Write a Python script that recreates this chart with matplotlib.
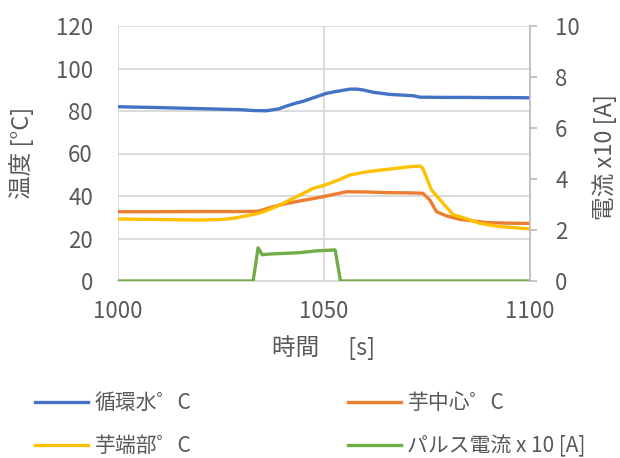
import matplotlib
matplotlib.use("Agg")
import matplotlib.pyplot as plt
from matplotlib.lines import Line2D

plt.rcParams['font.family'] = ['Noto Sans CJK JP', 'DejaVu Sans']

# circulating water (°C)
t_blue = [1000, 1010, 1020, 1030, 1033, 1036, 1039, 1041, 1043, 1045, 1048, 1050.6, 1053, 1056.3, 1058, 1059.5, 1062, 1066, 1071.6, 1073.3, 1080, 1084.6, 1090, 1095, 1100]
v_blue = [82.0, 81.6, 81.1, 80.6, 80.2, 80.1, 81.0, 82.4, 83.6, 84.6, 86.6, 88.3, 89.2, 90.3, 90.3, 89.9, 88.8, 87.8, 87.2, 86.5, 86.4, 86.4, 86.3, 86.3, 86.2]

# potato centre (°C)
t_or = [1000, 1010, 1020, 1030, 1034, 1037.7, 1041, 1045, 1048, 1050.6, 1053, 1055.5, 1060, 1065, 1070, 1074, 1075.7, 1077.3, 1079.8, 1083, 1089.5, 1095, 1100]
v_or = [32.6, 32.6, 32.7, 32.7, 32.8, 35.0, 36.5, 38.0, 39.0, 40.0, 41.0, 42.0, 41.9, 41.6, 41.5, 41.3, 38.1, 32.6, 30.6, 29.0, 27.5, 27.2, 27.1]

# potato edge (°C)
t_ye = [1000, 1010, 1020, 1025, 1028, 1031, 1034, 1036, 1039, 1041.7, 1044.2, 1047.4, 1050, 1053.9, 1056.3, 1060.4, 1065.2, 1070.9, 1073.3, 1074, 1076.1, 1078.2, 1081.4, 1083, 1087.9, 1092.7, 1100]
v_ye = [29.2, 28.9, 28.7, 28.9, 29.5, 30.6, 31.8, 33.1, 35.5, 38.1, 40.5, 43.6, 45.0, 47.8, 49.9, 51.4, 52.5, 53.8, 54.1, 53.0, 42.8, 38.1, 31.1, 30.3, 27.1, 25.6, 24.5]

# pulse current x10 [A]
t_gr = [1000, 1032.8, 1034, 1035, 1037, 1040, 1044, 1048, 1052.7, 1054, 1100]
v_gr = [0, 0, 1.3, 1.03, 1.06, 1.08, 1.11, 1.18, 1.22, 0, 0]

C_BLUE, C_OR, C_YE, C_GR = '#4472C4', '#ED7D31', '#FFC000', '#70AD47'
GRAY = '#595959'
GRID = '#D9D9D9'
LW = 2.4
W, H = 620, 458

fig = plt.figure(figsize=(6.2, 4.58), dpi=100)
ax = fig.add_axes([118/W, 1-281/H, (530-118)/W, (281-26)/H])
ax2 = ax.twinx()

ax.plot(t_blue, v_blue, color=C_BLUE, lw=LW, zorder=3)
ax.plot(t_or, v_or, color=C_OR, lw=LW, zorder=3)
ax.plot(t_ye, v_ye, color=C_YE, lw=LW, zorder=4)
ax2.plot(t_gr, v_gr, color=C_GR, lw=LW)

ax.set_xlim(1000, 1100)
ax.set_ylim(0, 120)
ax2.set_ylim(0, 10)
ax.set_xticks([1000, 1050, 1100])
ax.set_yticks(range(0, 121, 20))
ax2.set_yticks(range(0, 11, 2))

ax.grid(True, color=GRID, lw=1.3, zorder=0)
ax.set_axisbelow(True)

for a in (ax, ax2):
    for s in a.spines.values():
        s.set_visible(False)
ax.spines['bottom'].set_visible(True)
ax.spines['bottom'].set_color(GRID)
ax.spines['bottom'].set_linewidth(1.3)
ax2.spines['right'].set_visible(True)
ax2.spines['right'].set_color('#BFBFBF')
ax2.spines['right'].set_linewidth(1.3)

ax.tick_params(axis='y', length=0, labelsize=16, labelcolor=GRAY, pad=18)
ax.tick_params(axis='x', length=0, labelsize=16, labelcolor=GRAY, pad=14)
ax2.tick_params(axis='y', length=5, width=1.3, color='#BFBFBF', labelsize=16, labelcolor=GRAY, pad=13)

fig.text(22/W, 1-153/H, '温度 [°C]', fontsize=17, color=GRAY, rotation=90, ha='center', va='center')
fig.text(605/W, 1-157/H, '電流 x10 [A]', fontsize=17, color=GRAY, rotation=90, ha='center', va='center')
fig.text(324/W, 1-348/H, '時間\u3000 [s]', fontsize=17, color=GRAY, ha='center', va='center')

labels_c1 = ['循環水゜C', '芋端部゜C']
labels_c2 = ['芋中心゜C', 'パルス電流 x 10 [A]']
h1 = [Line2D([], [], color=C_BLUE, lw=LW), Line2D([], [], color=C_YE, lw=LW)]
h2 = [Line2D([], [], color=C_OR, lw=LW), Line2D([], [], color=C_GR, lw=LW)]
common = dict(loc='upper left', frameon=False, fontsize=15, handlelength=2.55, handletextpad=0.3,
              labelspacing=1.0, borderpad=0, borderaxespad=0)
leg1 = fig.legend(h1, labels_c1, bbox_to_anchor=(35/W, 1-392/H), **common)
leg2 = fig.legend(h2, labels_c2, bbox_to_anchor=(348/W, 1-392/H), **common)
for lg in (leg1, leg2):
    for tx in lg.get_texts():
        tx.set_color(GRAY)

fig.savefig('out.png', dpi=100)
